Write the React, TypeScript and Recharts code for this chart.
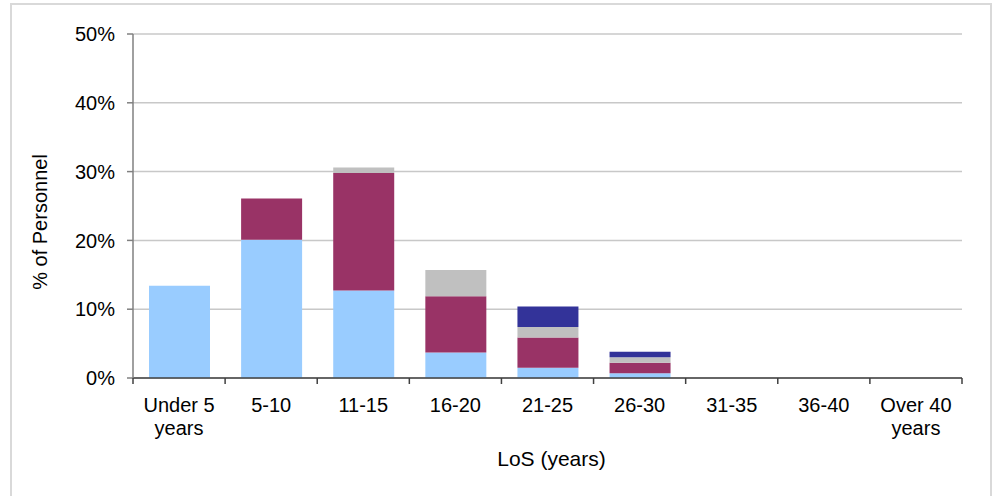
import React from 'react';
import { BarChart, Bar, XAxis, YAxis, CartesianGrid, Label } from 'recharts';

const categories = ['Under 5 years', '5-10', '11-15', '16-20', '21-25', '26-30', '31-35', '36-40', 'Over 40 years'];
const tickLabels = [['Under 5', 'years'], ['5-10'], ['11-15'], ['16-20'], ['21-25'], ['26-30'], ['31-35'], ['36-40'], ['Over 40', 'years']];
const seriesLightBlue = [13.4, 20.1, 12.7, 3.7, 1.5, 0.7, 0, 0, 0];
const seriesMaroon = [0, 6.0, 17.1, 8.2, 4.4, 1.5, 0, 0, 0];
const seriesGray = [0, 0, 0.8, 3.8, 1.5, 0.8, 0, 0, 0];
const seriesNavy = [0, 0, 0, 0, 3.0, 0.8, 0, 0, 0];
const yTicks = [0, 10, 20, 30, 40, 50];

const data = categories.map((c, i) => ({
  name: c,
  idx: i,
  a: seriesLightBlue[i],
  b: seriesMaroon[i],
  c: seriesGray[i],
  d: seriesNavy[i],
}));

const FONT = '"Liberation Sans", Arial, sans-serif';

const XTick = (props: any) => {
  const { x, y, payload, index, visibleTicksCount } = props;
  const off = payload && payload.offset ? payload.offset : 0;
  const lines = tickLabels[payload.value != null ? categories.indexOf(payload.value) : index] || [String(payload.value)];
  const axisY = y - 16;
  return (
    <g>
      <line x1={x - off} x2={x - off} y1={axisY} y2={axisY + 6} stroke="#404040" strokeWidth={1.5} />
      {index === visibleTicksCount - 1 && (
        <line x1={x + off} x2={x + off} y1={axisY} y2={axisY + 6} stroke="#404040" strokeWidth={1.5} />
      )}
      <text x={x} y={axisY + 34} textAnchor="middle" fontFamily={FONT} fontSize={20} fill="#000">
        {lines.map((l: string, k: number) => (
          <tspan key={k} x={x} dy={k === 0 ? 0 : 23}>{l}</tspan>
        ))}
      </text>
    </g>
  );
};

export default function App() {
  return (
    <div style={{ position: 'absolute', left: 0, top: 0, width: 995, height: 496, overflow: 'hidden', background: '#fff' }}>
      <div style={{ position: 'absolute', left: 10, top: 3, width: 982, height: 520, border: '2px solid #d9d9d9', boxSizing: 'border-box' }} />
      <div style={{ position: 'absolute', left: 0, top: 0 }}>
        <BarChart width={995} height={496} data={data} margin={{ top: 34, right: 33, left: 0, bottom: 22 }}>
          <CartesianGrid vertical={false} stroke="#c8c8c8" strokeWidth={1.5} />
          <XAxis
            dataKey="name"
            height={96}
            axisLine={{ stroke: '#404040', strokeWidth: 1.5 }}
            tickLine={false}
            tickSize={6}
            tickMargin={10}
            interval={0}
            tick={<XTick />}
          >
            <Label
              content={(p: any) => {
                const vb = p.viewBox || { x: 133, y: 378, width: 829, height: 96 };
                return (
                  <text x={vb.x + vb.width / 2 + 4} y={vb.y + 88} textAnchor="middle" fontFamily={FONT} fontSize={21} fill="#000">
                    LoS (years)
                  </text>
                );
              }}
            />
          </XAxis>
          <YAxis
            width={133}
            domain={[0, 50]}
            ticks={yTicks}
            tickFormatter={(v: number) => `${v}%`}
            axisLine={{ stroke: '#808080', strokeWidth: 1.5 }}
            tickLine={{ stroke: '#808080', strokeWidth: 1.5 }}
            tickSize={6}
            tickMargin={12}
            tick={{ fontFamily: FONT, fontSize: 20, fill: '#000' }}
            allowDataOverflow
          >
            <Label
              content={(p: any) => {
                const vb = p.viewBox || { x: 0, y: 34, width: 133, height: 344 };
                const cx = vb.x + 40;
                const cy = vb.y + vb.height / 2 + 16;
                return (
                  <text x={cx} y={cy} transform={`rotate(-90 ${cx} ${cy})`} textAnchor="middle" dominantBaseline="central" fontFamily={FONT} fontSize={20} fill="#000">
                    % of Personnel
                  </text>
                );
              }}
            />
          </YAxis>
          <Bar dataKey="a" stackId="s" fill="#99CCFF" barSize={61} isAnimationActive={false} />
          <Bar dataKey="b" stackId="s" fill="#993366" barSize={61} isAnimationActive={false} />
          <Bar dataKey="c" stackId="s" fill="#C0C0C0" barSize={61} isAnimationActive={false} />
          <Bar dataKey="d" stackId="s" fill="#333399" barSize={61} isAnimationActive={false} />
        </BarChart>
      </div>
    </div>
  );
}
